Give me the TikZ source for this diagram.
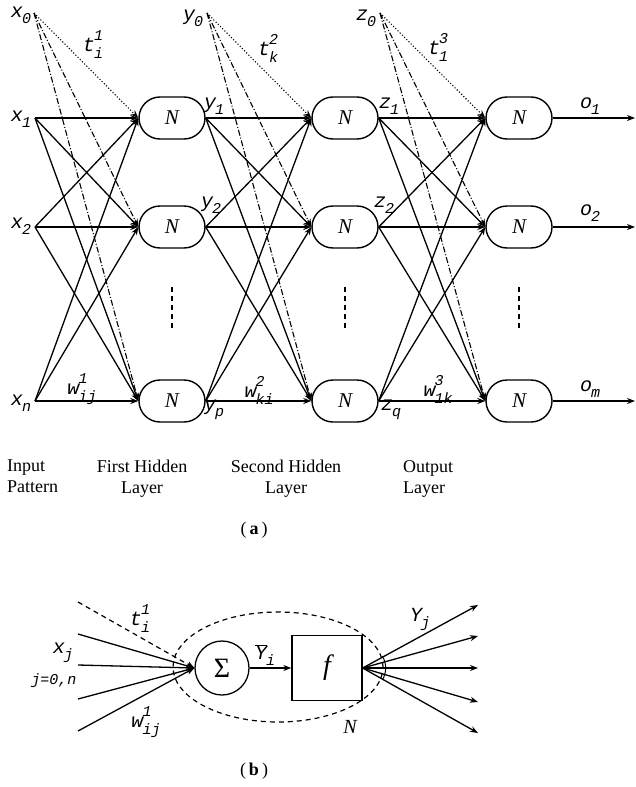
\documentclass[tikz,border=0pt]{standalone}
\usepackage{fontspec}
\setmainfont{Liberation Serif}
\newfontfamily\cour{Liberation Mono}
\usetikzlibrary{arrows.meta,shapes.geometric}

% variable labels: base letter with subscript, or with subscript and superscript
\newcommand\vbase{\cour\itshape\fontsize{20}{20}\selectfont}
\newcommand\vscr{\cour\itshape\fontsize{15}{15}\selectfont}
\newcommand\lbs[2]{{\vbase #1}\kern-1pt\raisebox{-6pt}{\vscr #2}}
\newcommand\lbss[3]{{\vbase #1}\kern-1pt\rlap{\raisebox{11pt}{\vscr #3}}\raisebox{-7pt}{\vscr #2}}

\tikzset{
  neuron/.style={draw, line width=1.4pt, rounded corners=21pt,
    minimum width=66pt, minimum height=42pt, inner sep=0pt,
    font=\fontsize{21}{21}\selectfont\itshape},
  tip/.style={-{Stealth[length=8pt,width=6pt]}},
  conn/.style={line width=1.3pt, tip},
  biasdot/.style={line width=1.1pt, dotted, tip},
  biasdash/.style={line width=1.1pt, dash pattern=on 6pt off 2pt on 1pt off 2pt, tip},
  lbl/.style={inner sep=0pt},
  layertxt/.style={inner sep=0pt, font=\fontsize{18}{21}\selectfont},
  vdots/.style={line width=1.3pt, dash pattern=on 5pt off 4pt},
}

\begin{document}
\begin{tikzpicture}[x=1pt,y=-1pt]
\useasboundingbox (0,0) rectangle (636,787);

% ---------- (a) multilayer network ----------
% inputs
\coordinate (i0) at (34,13);
\coordinate (i1) at (35,118);
\coordinate (i2) at (35,227);
\coordinate (i3) at (35,401);
% bias points of the hidden and output layers
\coordinate (b2) at (207,13);
\coordinate (b3) at (380,13);

% neurons
\foreach \r/\yy in {1/118,2/227,3/401}{
  \node[neuron] (h\r) at (172,\yy) {N};
  \node[neuron] (g\r) at (345,\yy) {N};
  \node[neuron] (o\r) at (519,\yy) {N};
  \coordinate (e\r) at (635,\yy);
}

% weighted connections
\foreach \i in {1,2,3}{
  \foreach \j in {1,2,3}{
    \draw[conn] (i\i) -- (h\j.west);
    \draw[conn] (h\i.east) -- (g\j.west);
    \draw[conn] (g\i.east) -- (o\j.west);
  }
  \draw[conn] (o\i.east) -- (e\i);
}

% thresholds
\draw[biasdot] (i0) -- (h1.west);
\draw[biasdash] (i0) -- (h2.west);
\draw[biasdash] (i0) -- (h3.west);
\draw[biasdot] (b2) -- (g1.west);
\draw[biasdash] (b2) -- (g2.west);
\draw[biasdash] (b2) -- (g3.west);
\draw[biasdot] (b3) -- (o1.west);
\draw[biasdash] (b3) -- (o2.west);
\draw[biasdash] (b3) -- (o3.west);

% omitted neurons
\draw[vdots] (172,287) -- (172,330);
\draw[vdots] (345,287) -- (345,330);
\draw[vdots] (519,287) -- (519,330);

% labels
\node[lbl] (lx0) at (21,15) {\lbs{x}{0}};
\node[lbl] (lx1) at (21,119) {\lbs{x}{1}};
\node[lbl] (lx2) at (21,226) {\lbs{x}{2}};
\node[lbl] (lxn) at (21,403) {\lbs{x}{n}};
\node[lbl] (lt1) at (93,45) {\lbss{t}{i}{1}};
\node[lbl] (ly0) at (193,18) {\lbs{y}{0}};
\node[lbl] (lt2) at (268,48) {\lbss{t}{k}{2}};
\node[lbl] (lz0) at (366,18) {\lbs{z}{0}};
\node[lbl] (lt3) at (438,47) {\lbss{t}{1}{3}};
\node[lbl] (ly1) at (214,106) {\lbs{y}{1}};
\node[lbl] (ly2) at (211,205) {\lbs{y}{2}};
\node[lbl] (lyp) at (214,410) {\lbs{y}{p}};
\node[lbl] (lz1) at (389,106) {\lbs{z}{1}};
\node[lbl] (lz2) at (384,205) {\lbs{z}{2}};
\node[lbl] (lzq) at (391,410) {\lbs{z}{q}};
\node[lbl] (lo1) at (590,106) {\lbs{o}{1}};
\node[lbl] (lo2) at (590,213) {\lbs{o}{2}};
\node[lbl] (lom) at (590,389) {\lbs{o}{m}};
\node[lbl] (lw1) at (82,389) {\lbss{w}{ij}{1}};
\node[lbl] (lw2) at (259,390) {\lbss{w}{ki}{2}};
\node[lbl] (lw3) at (438,389) {\lbss{w}{1k}{3}};

% layer names
\node[layertxt, anchor=north west, align=left] (tin) at (7,460) {Input\\Pattern};
\node[layertxt, anchor=north, align=center] (th1) at (142,460) {First Hidden\\Layer};
\node[layertxt, anchor=north, align=center] (th2) at (286,460) {Second Hidden\\Layer};
\node[layertxt, anchor=north west, align=left] (tout) at (403,460) {Output\\Layer};
\node[layertxt] (capa) at (254,530) {(\,\textbf{a}\,)};

% ---------- (b) single neuron ----------
\node[ellipse, draw, dash pattern=on 5pt off 4pt, line width=1.2pt, minimum width=210pt, minimum height=110pt] (cell) at (278,667) {};
\node[circle, draw, line width=1.3pt, minimum size=54pt, inner sep=0pt,
  font=\fontsize{28}{28}\selectfont] (sig) at (222,668) {Σ};
\node[draw, line width=1.3pt, minimum width=70pt, minimum height=65pt,
  font=\fontsize{28}{28}\selectfont\itshape] (fbox) at (327,668) {f};

\coordinate (pt) at (78,602);
\coordinate (pa) at (78,634);
\coordinate (pb) at (78,665);
\coordinate (pc) at (78,699);
\coordinate (pd) at (78,731);
\draw[line width=1.2pt, dash pattern=on 5pt off 4pt, tip] (pt) -- (sig.west);
\foreach \p in {pa,pb,pc,pd} \draw[conn] (\p) -- (sig.west);

\draw[conn] (sig.east) -- (fbox.west);

\coordinate (qa) at (478,605);
\coordinate (qb) at (478,636);
\coordinate (qc) at (478,668);
\coordinate (qd) at (478,702);
\coordinate (qe) at (478,733);
\foreach \q in {qa,qb,qc,qd,qe} \draw[conn] (fbox.east) -- (\q);
\draw[line width=1pt] ([shift={(31:23pt)}]fbox.east) arc[start angle=31, end angle=-31, radius=23pt];

\node[lbl] (lbt) at (140,619) {\lbss{t}{i}{1}};
\node[lbl] (lbx) at (63,653) {\lbs{x}{j}};
\node[lbl, font=\vscr] (lbj) at (54,681) {j=0,n};
\node[lbl] (lbw) at (146,722) {\lbss{w}{ij}{1}};
\node[lbl] (lby) at (265,655) {$\overline{\hbox{\vbase Y}}$\kern-1pt\raisebox{-6pt}{\vscr i}};
\node[lbl] (lbY) at (420,619) {\lbs{Y}{j}};
\node[lbl, font=\fontsize{20}{20}\selectfont\itshape] (lbN) at (350,727) {N};
\node[layertxt] (capb) at (254,771) {(\,\textbf{b}\,)};
\end{tikzpicture}
\end{document}
